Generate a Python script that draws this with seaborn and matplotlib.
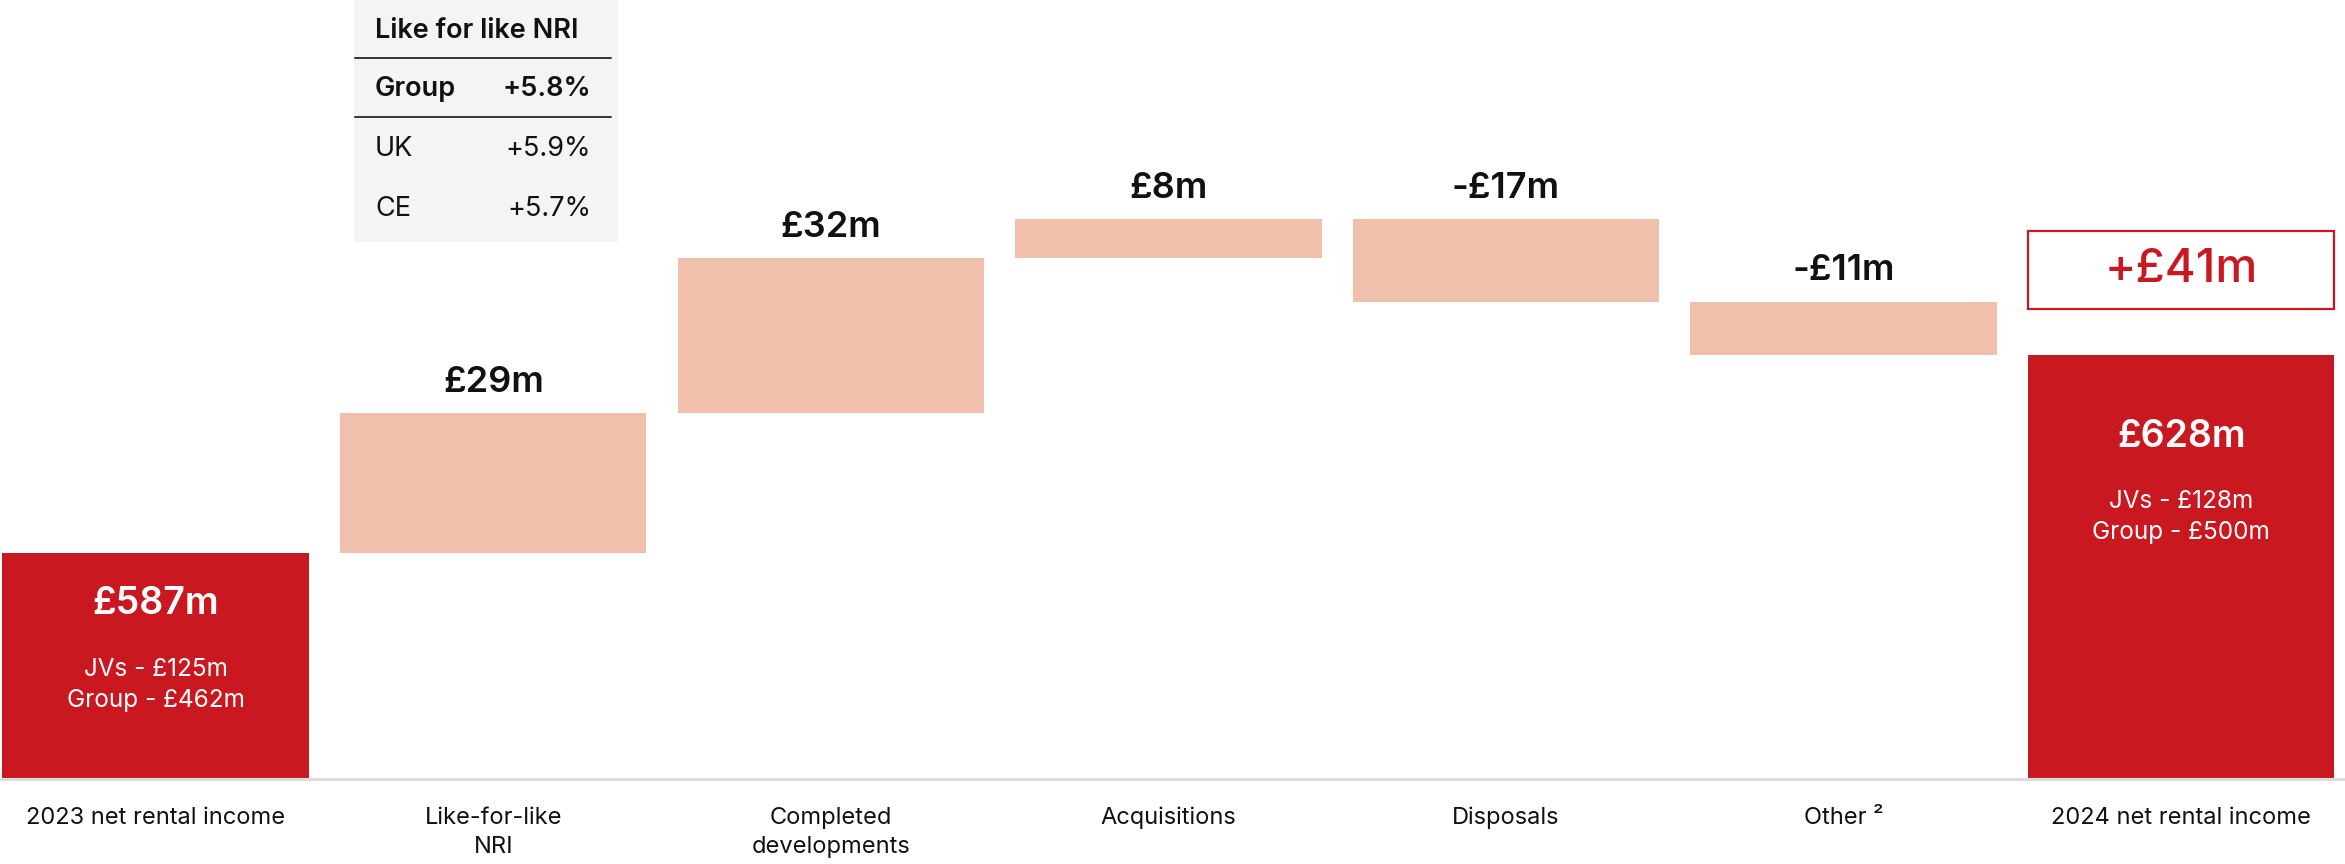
import matplotlib
matplotlib.use("Agg")
import matplotlib.pyplot as plt
import seaborn as sns
import pandas as pd
from matplotlib.patches import Rectangle
from matplotlib.lines import Line2D

# ---------------- data ----------------
categories = ["2023 net rental income", "Like-for-like\nNRI", "Completed\ndevelopments",
              "Acquisitions", "Disposals", "Other ²", "2024 net rental income"]
start_value = 587
changes = [29, 32, 8, -17, -11]
end_value = 628
value_labels = ["£587m", "£29m", "£32m", "£8m", "-£17m", "-£11m", "£628m"]
start_breakdown = ["JVs - £125m", "Group - £462m"]
end_breakdown = ["JVs - £128m", "Group - £500m"]
net_change_label = "+£41m"
table_title = "Like for like NRI"
table_rows = ["Group", "UK", "CE"]
table_values = ["+5.8%", "+5.9%", "+5.7%"]

# ---------------- style ----------------
RED = "#CA1820"
PEACH = "#F0C0AD"
W, H = 2345, 864
axis_floor = 540.2
axis_top = 701.4

sns.set_theme(style="white")
plt.rcParams["font.family"] = ["Inter", "DejaVu Sans"]

# waterfall geometry
bottoms, heights, kinds = [axis_floor], [start_value - axis_floor], ["total"]
cum = start_value
for c in changes:
    bottoms.append(min(cum, cum + c))
    heights.append(abs(c))
    kinds.append("step")
    cum += c
bottoms.append(axis_floor)
heights.append(end_value - axis_floor)
kinds.append("total")
tops = [b + h for b, h in zip(bottoms, heights)]

df = pd.DataFrame({"category": categories, "height": heights, "kind": kinds})
palette = {c: (RED if k == "total" else PEACH) for c, k in zip(categories, kinds)}

fig = plt.figure(figsize=(W / 100, H / 100), dpi=100)
fig.patch.set_facecolor("white")
ax = fig.add_axes([0, 85 / H, 1, 779 / H])
ax.set_facecolor("none")

sns.barplot(data=df, x="category", y="height", hue="category", palette=palette,
            legend=False, width=0.9076, saturation=1, linewidth=0, ax=ax)
for p in ax.patches:
    idx = int(round(p.get_x() + p.get_width() / 2))
    p.set_y(bottoms[idx])

ax.set_xlim(-0.461, 6.485)
ax.set_ylim(axis_floor, axis_top)
ax.set_xlabel("")
ax.set_ylabel("")
ax.set_yticks([])
ax.set_xticks(range(len(categories)))
ax.set_xticklabels(categories, fontsize=17, linespacing=1.42, color="#111111")
ax.tick_params(axis="x", length=0, pad=20)
for s in ["top", "left", "right"]:
    ax.spines[s].set_visible(False)
ax.spines["bottom"].set_color("#dcdcdc")
ax.spines["bottom"].set_linewidth(2.2)

# value labels above floating bars
for i in range(1, len(categories) - 1):
    ax.annotate(value_labels[i], xy=(i, tops[i]), xytext=(0, 22), textcoords="offset points",
                ha="center", va="center", fontsize=26, fontweight="semibold", color="#111111")

# labels inside total bars
inside_offsets = {0: (-37, -84, -106), len(categories) - 1: (-59, -106, -128)}
breakdowns = {0: start_breakdown, len(categories) - 1: end_breakdown}
for i, offs in inside_offsets.items():
    ax.annotate(value_labels[i], xy=(i, tops[i]), xytext=(0, offs[0]), textcoords="offset points",
                ha="center", va="center", fontsize=27, fontweight="semibold", color="white")
    for line, o in zip(breakdowns[i], offs[1:]):
        ax.annotate(line, xy=(i, tops[i]), xytext=(0, o), textcoords="offset points",
                    ha="center", va="center", fontsize=17.5, color="white")

# net change box
last = len(categories) - 1
bw = 0.9076
ax.add_patch(Rectangle((last - bw / 2, end_value + 9.4), bw, 16.3, facecolor="white",
                       edgecolor=RED, linewidth=1.6, zorder=3))
ax.text(last, end_value + 17.5, net_change_label, ha="center", va="center",
        fontsize=34, fontweight="medium", color=RED, zorder=4)

# like-for-like table (figure pixel coordinates)
def fx(x):
    return x / W

def fy(y):
    return 1 - y / H

fig.add_artist(Rectangle((fx(354), fy(242)), (618 - 354) / W, 242 / H,
                         transform=fig.transFigure, facecolor="#f4f4f4", edgecolor="none", zorder=-1))
for yy in (58, 117):
    fig.add_artist(Line2D([fx(355), fx(611)], [fy(yy), fy(yy)], transform=fig.transFigure,
                          color="#333333", linewidth=1.4, zorder=2))
fig.text(fx(375), fy(31), table_title, ha="left", va="center", fontsize=19.5,
         fontweight="semibold", color="#111111", zorder=3)
for k, (r, v, yy) in enumerate(zip(table_rows, table_values, (89, 149, 209))):
    wgt = "semibold" if k == 0 else "normal"
    fig.text(fx(375), fy(yy), r, ha="left", va="center", fontsize=19.5, fontweight=wgt,
             color="#111111", zorder=3)
    fig.text(fx(591), fy(yy), v, ha="right", va="center", fontsize=19.5, fontweight=wgt,
             color="#111111", zorder=3)

fig.savefig("out.png", dpi=100, facecolor="white")
